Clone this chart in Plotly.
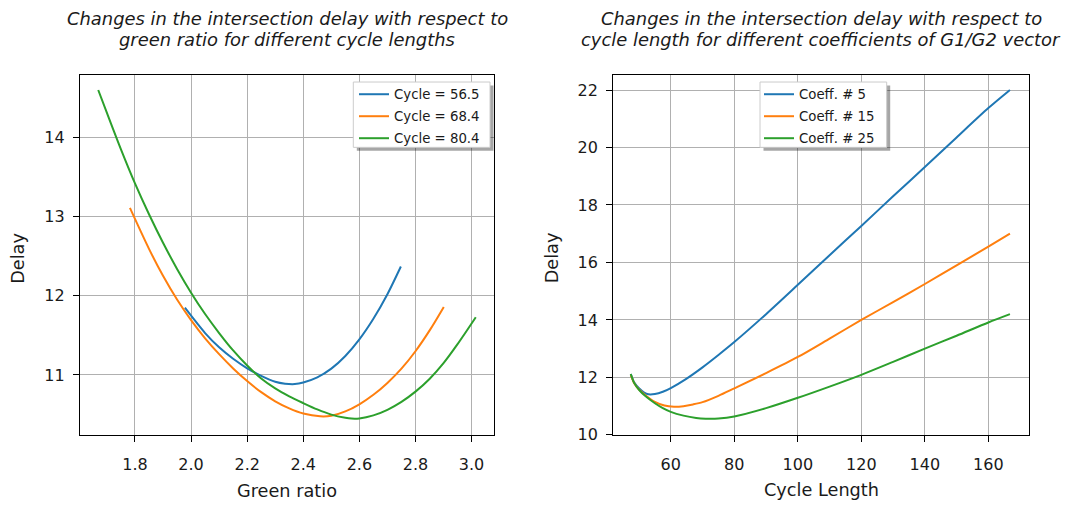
import plotly.graph_objects as go

# ---------------- data ----------------
# Left panel: delay vs green ratio
gr_c565 = [1.978, 2.05, 2.10, 2.15, 2.20, 2.25, 2.30, 2.335, 2.37, 2.40, 2.45, 2.50, 2.55, 2.60, 2.65, 2.70, 2.748]
dl_c565 = [11.85, 11.53, 11.35, 11.205, 11.085, 10.99, 10.915, 10.89, 10.885, 10.905, 10.97, 11.08, 11.24, 11.45, 11.71, 12.02, 12.37]

gr_c684 = [1.782, 1.85, 1.90, 1.95, 2.00, 2.05, 2.10, 2.15, 2.20, 2.25, 2.30, 2.35, 2.40, 2.46, 2.50, 2.55, 2.60, 2.65, 2.70, 2.75, 2.80, 2.85, 2.901]
dl_c684 = [13.11, 12.593, 12.253, 11.953, 11.693, 11.463, 11.263, 11.083, 10.923, 10.783, 10.668, 10.578, 10.513, 10.478, 10.485, 10.54, 10.63, 10.75, 10.90, 11.08, 11.30, 11.56, 11.86]

gr_c804 = [1.669, 1.70, 1.75, 1.80, 1.85, 1.90, 1.95, 2.00, 2.05, 2.10, 2.15, 2.20, 2.25, 2.30, 2.35, 2.40, 2.45, 2.50, 2.55, 2.572, 2.60, 2.65, 2.70, 2.75, 2.80, 2.85, 2.90, 2.95, 3.015]
dl_c804 = [14.60, 14.31, 13.85, 13.42, 13.03, 12.67, 12.34, 12.04, 11.77, 11.53, 11.31, 11.12, 10.955, 10.83, 10.73, 10.645, 10.565, 10.50, 10.46, 10.45, 10.452, 10.49, 10.56, 10.66, 10.79, 10.95, 11.15, 11.39, 11.73]

left_names = ["Cycle = 56.5", "Cycle = 68.4", "Cycle = 80.4"]

# Right panel: delay vs cycle length
cl_k5 = [47.4, 48.5, 50, 51.5, 53, 55, 57.5, 60, 65, 70, 75, 80, 90, 100, 110, 120, 130, 140, 150, 160, 166.8]
dl_k5 = [12.12, 11.82, 11.62, 11.48, 11.41, 11.42, 11.50, 11.63, 11.96, 12.35, 12.78, 13.23, 14.20, 15.22, 16.25, 17.27, 18.30, 19.32, 20.35, 21.37, 22.00]

cl_k15 = [47.4, 48.5, 50, 52, 55, 58, 61, 64, 67, 70, 75, 80, 90, 100, 110, 120, 130, 140, 150, 160, 166.8]
dl_k15 = [12.08, 11.80, 11.58, 11.38, 11.15, 11.02, 10.98, 11.00, 11.06, 11.14, 11.36, 11.62, 12.15, 12.71, 13.35, 14.00, 14.62, 15.25, 15.90, 16.55, 17.00]

cl_k25 = [47.4, 48.5, 50, 52, 55, 57.5, 60, 64, 68, 71, 75, 80, 90, 100, 110, 120, 130, 140, 150, 160, 166.8]
dl_k25 = [12.12, 11.80, 11.57, 11.35, 11.10, 10.93, 10.80, 10.67, 10.59, 10.565, 10.57, 10.64, 10.93, 11.29, 11.68, 12.09, 12.54, 13.00, 13.45, 13.91, 14.20]

right_names = ["Coeff. # 5", "Coeff. # 15", "Coeff. # 25"]

left_xticks = [1.8, 2.0, 2.2, 2.4, 2.6, 2.8, 3.0]
left_xlabels = ["1.8", "2.0", "2.2", "2.4", "2.6", "2.8", "3.0"]
left_yticks = [11, 12, 13, 14]
right_xticks = [60, 80, 100, 120, 140, 160]
right_yticks = [10, 12, 14, 16, 18, 20, 22]

colors = ["#1f77b4", "#ff7f0e", "#2ca02c"]

title_left = ["Changes in the intersection delay with respect to",
              "green ratio for different cycle lengths"]
title_right = ["Changes in the intersection delay with respect to",
               "cycle length for different coefficients of G1/G2 vector"]

# ---------------- layout geometry (pixels) ----------------
W, H = 1069, 509
FONT = "DejaVu Sans"
TXT = "#1a1a1a"


def px(x):
    return x / W


def py(y):
    return 1 - y / H


fig = go.Figure()

for xs, ys, nm, c in zip([gr_c565, gr_c684, gr_c804], [dl_c565, dl_c684, dl_c804], left_names, colors):
    fig.add_trace(go.Scatter(x=xs, y=ys, mode="lines", name=nm, legendgroup=nm,
                             line=dict(color=c, width=2, shape="spline", smoothing=0.8),
                             xaxis="x", yaxis="y", legend="legend"))

for xs, ys, nm, c in zip([cl_k5, cl_k15, cl_k25], [dl_k5, dl_k15, dl_k25], right_names, colors):
    fig.add_trace(go.Scatter(x=xs, y=ys, mode="lines", name=nm, legendgroup=nm,
                             line=dict(color=c, width=2, shape="spline", smoothing=0.8),
                             xaxis="x2", yaxis="y2", legend="legend2"))

axis_common = dict(
    showline=True, linecolor="black", linewidth=1.3, mirror=True,
    ticks="outside", ticklen=6, tickwidth=1.2, tickcolor="black",
    showgrid=True, gridcolor="#b0b0b0", gridwidth=1, zeroline=False,
    tickfont=dict(family=FONT, size=16, color=TXT),
)

ydom = [py(443), py(76.7)]

legend_common = dict(xanchor="left", yanchor="top", bgcolor="rgba(0,0,0,0)", borderwidth=0,
                     font=dict(family=FONT, size=13.3, color=TXT), itemwidth=30, tracegroupgap=1.7)

fig.update_layout(
    width=W, height=H,
    margin=dict(l=0, r=0, t=0, b=0),
    paper_bgcolor="white", plot_bgcolor="white",
    font=dict(family=FONT, color=TXT),
    xaxis=dict(domain=[px(80), px(494)], range=[1.604, 3.080], tickvals=left_xticks, ticktext=left_xlabels,
               anchor="y", ticklabelstandoff=8, **axis_common),
    yaxis=dict(domain=ydom, range=[10.24, 14.785], tickvals=left_yticks, anchor="x",
               ticklabelstandoff=5, **axis_common),
    xaxis2=dict(domain=[px(613.3), px(1029)], range=[41.9, 172.8], tickvals=right_xticks, anchor="y2",
                ticklabelstandoff=8, **axis_common),
    yaxis2=dict(domain=ydom, range=[9.99, 22.51], tickvals=right_yticks, anchor="x2",
                ticklabelstandoff=5, **axis_common),
    legend=dict(x=px(354), y=py(80.5), **legend_common),
    legend2=dict(x=px(759), y=py(80.5), **legend_common),
    showlegend=True,
)

annotations = []
for cx, lines in [(287, title_left), (821, title_right)]:
    for i, t in enumerate(lines):
        annotations.append(dict(x=px(cx), y=py(19 + 21 * i), xref="paper", yref="paper", text="<i>" + t + "</i>",
                                showarrow=False, xanchor="center", yanchor="middle",
                                font=dict(family=FONT, size=17.9, color=TXT)))
annotations.append(dict(x=px(287), y=py(500), xref="paper", yref="paper", text="Green ratio", showarrow=False,
                        xanchor="center", yanchor="middle", font=dict(family=FONT, size=17.7, color=TXT)))
annotations.append(dict(x=px(821), y=py(499), xref="paper", yref="paper", text="Cycle Length", showarrow=False,
                        xanchor="center", yanchor="middle", font=dict(family=FONT, size=17.7, color=TXT)))
for xx in (18.5, 552):
    annotations.append(dict(x=px(xx), y=py(263), xref="paper", yref="paper", text="Delay", showarrow=False,
                            textangle=-90, xanchor="center", yanchor="middle",
                            font=dict(family=FONT, size=17.7, color=TXT)))
fig.update_layout(annotations=annotations)

# legend frames with drop shadows (matplotlib style)
shapes = []
for (x0, y0, x1, y1) in [(353.3, 83.5, 490, 150), (760, 83.5, 886.7, 150)]:
    shapes.append(dict(type="rect", xref="paper", yref="paper", x0=px(x0 + 3.5), x1=px(x1 + 3.5),
                       y0=py(y1 + 3.5), y1=py(y0 + 3.5),
                       fillcolor="rgba(0,0,0,0.35)", line=dict(width=0), layer="above"))
    shapes.append(dict(type="rect", xref="paper", yref="paper", x0=px(x0), x1=px(x1), y0=py(y1), y1=py(y0),
                       fillcolor="white", line=dict(color="#cccccc", width=1), layer="above"))
fig.update_layout(shapes=shapes)

fig.write_html("out.html", config={"displayModeBar": False},
               post_script="document.body.style.margin='0';document.body.style.padding='0';")
